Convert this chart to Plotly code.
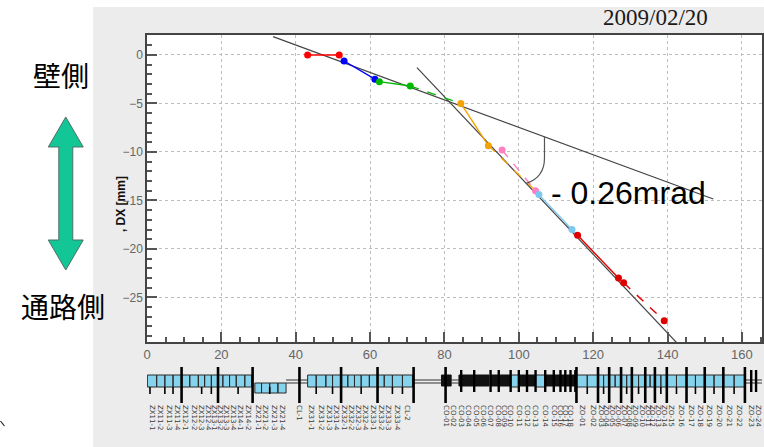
import plotly.graph_objects as go

# ---------------- main chart data ----------------
pos_x = [43.2, 51.7, 53.0, 61.3, 62.5, 70.8, 84.4, 91.8, 95.5, 104.5, 105.4, 114.3, 115.8, 126.8, 128.2, 139.1]
dx_mm = [0.0, 0.0, -0.62, -2.5, -2.75, -3.2, -5.0, -9.35, -9.8, -14.0, -14.4, -18.0, -18.6, -23.0, -23.5, -27.4]
pair_colors = ["#FF0000", "#0000FF", "#00B800", "#F5A300", "#FF7FC0", "#7CC8EE", "#E00000", "#E00000"]
pair_dash = ["solid", "solid", "solid", "solid", "dash", "solid", "solid", "dash"]
# dashed links (from index, to index, colour)
links = [(5, 6, "#00B800"), (7, 9, "#F5A300"), (11, 12, "#7CC8EE")]

fit_a_x = [33.9, 152.3]
fit_a_y = [1.89, -14.85]
fit_b_x = [72.6, 144.5]
fit_b_y = [-1.31, -30.5]

angle_label = "- 0.26mrad"
date_label = "2009/02/20"

# ---------------- lower strip (layout schematic) ----------------
boxes_upper = [
    [0.1, 2.6, 4.8, 7.0, 9.3, 11.5, 13.8, 15.5, 17.3, 19.1, 20.4, 22.2, 24.0, 26.3, 28.1],
    [43.2, 45.5, 48.1, 49.9, 52.2, 54.0, 55.8, 57.6, 59.8, 62.0, 63.8, 66.0, 68.7, 71.4],
    [97.8, 100.0],
    [104.5, 107.1],
    [115.5, 118.4, 121.3, 122.8, 124.3, 125.9, 127.5, 129.0, 130.4, 132.2, 134.0, 135.3, 136.6,
     138.2, 139.8, 142.4, 145.1, 147.5, 150.0, 152.5, 155.0, 157.9, 160.8],
]
boxes_lower = [[29.0, 30.8, 33.0, 35.2, 37.4]]
black_blocks = [(79.2, 81.8), (83.9, 92.0), (92.4, 97.8), (100.0, 104.5), (107.1, 115.3)]
tall_spikes = [9.3, 19.1, 28.4, 41.0, 52.2, 62.0, 71.7, 80.3, 115.5, 121.3, 124.3, 127.5, 130.4,
               134.0, 136.6, 139.8, 145.1, 150.0, 155.0, 160.8]
mid_spikes = [84.5, 88.0, 92.4, 94.6, 97.8, 100.0, 102.2, 104.5, 107.1, 109.4, 111.2, 112.5,
              113.9, 115.2, 162.5, 163.8]
short_marks = [0.8, 4.8, 7.0, 14.7, 17.3, 24.5, 33.0, 45.5, 49.9, 57.6, 66.0, 68.7, 118.4, 122.8,
               129.0, 132.2, 138.2, 142.4, 147.5, 152.5, 157.9]
wires = [(37.4, 43.2), (71.4, 79.2), (81.8, 83.9), (160.8, 165.4)]

label_x = [1.3, 3.7, 5.9, 8.1, 10.4, 12.6, 14.6, 16.4, 18.2, 19.8, 21.3, 23.1, 25.2, 27.2,
           29.9, 31.9, 34.1, 36.3, 41.0,
           44.3, 46.8, 49.0, 51.0, 53.1, 54.9, 56.7, 58.7, 60.9, 62.9, 64.9, 67.3, 70.0,
           80.5, 82.5, 84.5, 86.5, 88.5, 90.5, 92.4, 94.6, 96.2, 97.8, 100.0, 102.2, 104.5,
           107.1, 109.4, 111.2, 112.5, 113.9,
           117.0, 119.9, 122.1, 123.6, 125.1, 126.7, 128.3, 129.7, 131.3, 133.1, 134.7, 136.0,
           137.4, 139.0, 141.1, 143.8, 146.3, 148.8, 151.3, 153.8, 156.5, 159.4, 162.5, 164.5]
label_text = ("ZX11-1 ZX11-2 ZX11-3 ZX11-4 ZX12-1 ZX12-2 ZX12-3 ZX12-4 ZX13-1 ZX13-2 ZX13-3 "
              "ZX13-4 ZX14-1 ZX14-2 ZX21-1 ZX21-2 ZX21-3 ZX21-4 CL-1 ZX31-1 ZX31-2 ZX31-3 "
              "ZX31-4 ZX32-1 ZX32-2 ZX32-3 ZX32-4 ZX33-1 ZX33-2 ZX33-3 ZX33-4 CL-2 CO-01 "
              "CO-02 CO-03 CO-04 CO-05 CO-06 CO-07 CO-08 CO-09 CO-10 CO-11 CO-12 CO-13 "
              "CO-14 CO-15 CO-16 CO-17 CO-18 ZO-01 ZO-02 ZO-03 ZO-04 ZO-05 ZO-06 ZO-07 "
              "ZO-08 ZO-09 ZO-10 ZO-11 ZO-12 ZO-13 ZO-14 ZO-15 ZO-16 ZO-17 ZO-18 ZO-19 "
              "ZO-20 ZO-21 ZO-22 ZO-23 ZO-24").split()

X_RANGE = [0, 165.4]
Y_RANGE = [-29.6, 2.06]

fig = go.Figure()

# ---- fit lines
for fx, fy in [(fit_a_x, fit_a_y), (fit_b_x, fit_b_y)]:
    fig.add_trace(go.Scatter(x=fx, y=fy, mode="lines", line=dict(color="#444444", width=1.2),
                             showlegend=False, hoverinfo="skip"))

# ---- dashed links
for i, j, c in links:
    fig.add_trace(go.Scatter(x=[pos_x[i], pos_x[j]], y=[dx_mm[i], dx_mm[j]], mode="lines",
                             line=dict(color=c, width=1.3, dash="dash"), showlegend=False))

# ---- measured pairs
for k, c in enumerate(pair_colors):
    xs = pos_x[2 * k:2 * k + 2]
    ys = dx_mm[2 * k:2 * k + 2]
    fig.add_trace(go.Scatter(x=xs, y=ys, mode="lines+markers",
                             line=dict(color=c, width=1.4, dash=pair_dash[k]),
                             marker=dict(color=c, size=7), showlegend=False))

# ---- strip traces (x2 / y2)
def box_poly(edge_groups, y0, y1):
    xs, ys = [], []
    for edges in edge_groups:
        for a, b in zip(edges[:-1], edges[1:]):
            xs += [a, b, b, a, a, None]
            ys += [y0, y0, y1, y1, y0, None]
    return xs, ys

bx, by = box_poly(boxes_upper, -6, 6)
fig.add_trace(go.Scatter(x=bx, y=by, mode="lines", fill="toself", fillcolor="#86D3EE",
                         line=dict(color="#2A2A2A", width=1), xaxis="x2", yaxis="y2",
                         showlegend=False, hoverinfo="skip"))
lx, ly = box_poly(boxes_lower, -12, -2)
fig.add_trace(go.Scatter(x=lx, y=ly, mode="lines", fill="toself", fillcolor="#86D3EE",
                         line=dict(color="#2A2A2A", width=1), xaxis="x2", yaxis="y2",
                         showlegend=False, hoverinfo="skip"))
kx, ky = box_poly([[a, b] for a, b in black_blocks], -5, 6)
fig.add_trace(go.Scatter(x=kx, y=ky, mode="lines", fill="toself", fillcolor="#111111",
                         line=dict(color="#111111", width=1), xaxis="x2", yaxis="y2",
                         showlegend=False, hoverinfo="skip"))
wx, wy = [], []
for a, b in wires:
    wx += [a, b, None, a, b, None]
    wy += [1, 1, None, -2, -2, None]
fig.add_trace(go.Scatter(x=wx, y=wy, mode="lines", line=dict(color="#333333", width=1),
                         xaxis="x2", yaxis="y2", showlegend=False, hoverinfo="skip"))

def spikes(xs_, y0, y1):
    xs, ys = [], []
    for v in xs_:
        xs += [v, v, None]
        ys += [y0, y1, None]
    return xs, ys

for sx_, y0, y1, w in [(tall_spikes, -22, 14, 2.6), (mid_spikes, -11, 11, 2.4),
                       (short_marks, -13, -6, 1.6)]:
    sx, sy = spikes(sx_, y0, y1)
    fig.add_trace(go.Scatter(x=sx, y=sy, mode="lines", line=dict(color="#000000", width=w),
                             xaxis="x2", yaxis="y2", showlegend=False, hoverinfo="skip"))

# ---------------- layout geometry ----------------
W, H = 764, 447
ML, MT = 147, 35
PW, PH = W - ML, H - MT

def px(x):
    return (x - ML) / PW

def py(y):
    return (H - y) / PH

arrow_pts = [(65.5, 117), (83, 147), (72.5, 147), (72.5, 240), (83, 240), (65.5, 270),
             (48, 240), (58.5, 240), (58.5, 147), (48, 147)]
arrow_path = "M " + " L ".join(f"{px(a):.4f},{py(b):.4f}" for a, b in arrow_pts) + " Z"

# arc between the fit lines
ax0 = 106.9
ay0 = fit_a_y[0] + (fit_a_y[1] - fit_a_y[0]) / (fit_a_x[1] - fit_a_x[0]) * (ax0 - fit_a_x[0])
ax1 = 102.0
ay1 = fit_b_y[0] + (fit_b_y[1] - fit_b_y[0]) / (fit_b_x[1] - fit_b_x[0]) * (ax1 - fit_b_x[0])
arc_path = f"M {ax0},{ay0} L {ax0},{ay0 - 2.2} Q {ax0},{ay1 + 0.6} {ax1},{ay1}"

shapes = [
    dict(type="rect", xref="paper", yref="paper", x0=px(-5), x1=px(93), y0=py(452), y1=py(-5),
         fillcolor="white", line=dict(width=0), layer="below"),
    dict(type="rect", xref="paper", yref="paper", x0=px(93), x1=px(770), y0=py(7), y1=py(-5),
         fillcolor="white", line=dict(width=0), layer="below"),
    dict(type="rect", xref="x", yref="y", x0=X_RANGE[0], x1=X_RANGE[1], y0=Y_RANGE[0],
         y1=Y_RANGE[1], fillcolor="white", line=dict(width=0), layer="below"),
    dict(type="path", xref="x", yref="y", path=arc_path, line=dict(color="#555555", width=1.2)),
    dict(type="path", xref="paper", yref="paper", path=arrow_path, fillcolor="#12C795",
         line=dict(color="#4F6F66", width=1)),
    dict(type="line", xref="paper", yref="paper", x0=px(0), y0=py(421), x1=px(4), y1=py(426),
         line=dict(color="#222222", width=1.2)),
]

ann_common = dict(showarrow=False, xanchor="center", yanchor="middle")
annotations = [
    dict(text=angle_label, x=129.5, y=-14.2, xref="x", yref="y",
         font=dict(family="Liberation Sans, Arial", size=32, color="#000000"), **ann_common),
    dict(text=date_label, x=px(657), y=py(18), xref="paper", yref="paper",
         font=dict(family="Liberation Serif, Times New Roman", size=23, color="#1A1A1A"),
         **ann_common),
    dict(text="<b>, DX [mm]</b>", x=px(121), y=py(204), xref="paper", yref="paper",
         textangle=-90, font=dict(family="Liberation Sans, Arial", size=12, color="#111111"),
         **ann_common),
    dict(text="壁側", x=px(61), y=py(75), xref="paper", yref="paper",
         font=dict(family="Noto Sans CJK JP", size=28, color="#000000"), **ann_common),
    dict(text="通路側", x=px(63), y=py(306), xref="paper", yref="paper",
         font=dict(family="Noto Sans CJK JP", size=28, color="#000000"), **ann_common),
]

axis_common = dict(showline=True, linecolor="#444444", linewidth=1.5, mirror=True,
                   ticks="inside", ticklen=10, tickwidth=1.5, tickcolor="#555555",
                   showgrid=True, gridcolor="#BDBDBD", griddash="dot", gridwidth=1,
                   zeroline=False, tickfont=dict(family="Liberation Sans, Arial", size=13,
                                                 color="#666666"))

fig.update_layout(
    width=W, height=H,
    margin=dict(l=ML, r=0, t=MT, b=0, pad=0),
    paper_bgcolor="#ECECEC", plot_bgcolor="#ECECEC",
    showlegend=False,
    xaxis=dict(domain=[0, 1], anchor="y", range=X_RANGE, dtick=20, tick0=0,
               minor=dict(dtick=5, ticks="inside", ticklen=5, tickcolor="#555555", showgrid=False),
               **axis_common),
    yaxis=dict(domain=[py(342), 1], anchor="x", range=Y_RANGE, dtick=5, tick0=0,
               minor=dict(dtick=1, ticks="inside", ticklen=5, tickcolor="#555555", showgrid=False),
               **{**axis_common, "tickfont": dict(family="Liberation Sans, Arial", size=12,
                                                  color="#666666")}),
    xaxis2=dict(domain=[0, 1], anchor="y2", range=X_RANGE, matches="x", showgrid=False,
                showline=False, zeroline=False, ticks="", tickmode="array", tickvals=label_x,
                ticktext=label_text, tickangle=90,
                tickfont=dict(family="DejaVu Sans", size=7, color="#3A3A3A")),
    yaxis2=dict(domain=[py(404), py(352)], anchor="x2", range=[-23, 29], visible=False),
    shapes=shapes,
    annotations=annotations,
)

fig.write_html("out.html")
